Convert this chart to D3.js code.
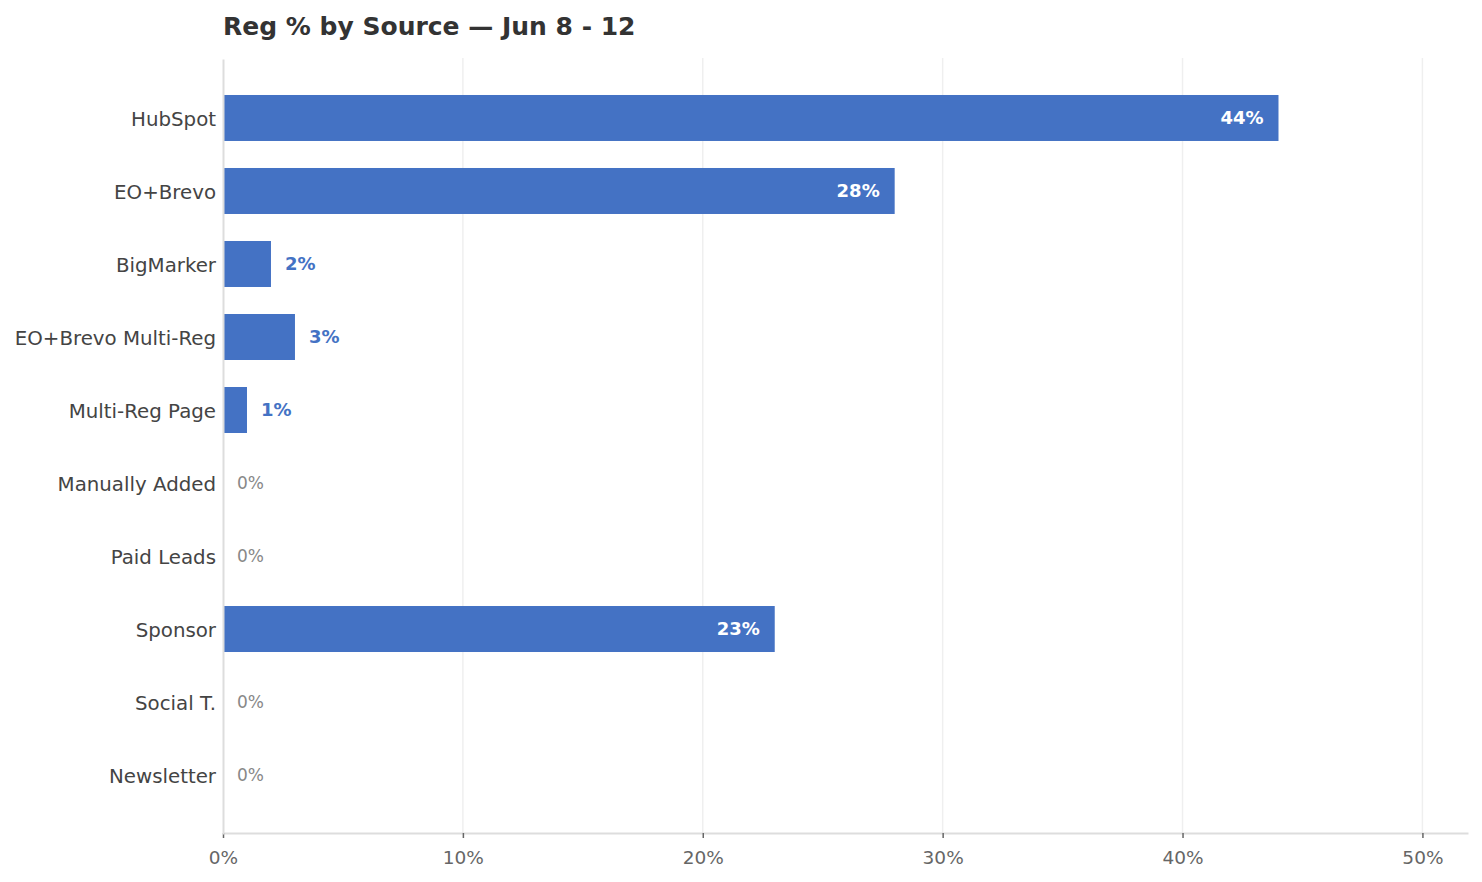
<!DOCTYPE html>
<html>
<head>
<meta charset="utf-8">
<script src="https://cdn.jsdelivr.net/npm/d3@7"></script>
<style>
  body { margin: 0; background: #fff; }
  svg { font-family: "DejaVu Sans", sans-serif; }
</style>
</head>
<body>
<div id="chart"></div>
<script>
const sources = ["HubSpot", "EO+Brevo", "BigMarker", "EO+Brevo Multi-Reg", "Multi-Reg Page",
                 "Manually Added", "Paid Leads", "Sponsor", "Social T.", "Newsletter"];
const regPct = [44, 28, 2, 3, 1, 0, 0, 23, 0, 0];
const tickValues = [0, 10, 20, 30, 40, 50];

const width = 1482, height = 882;
const margin = { top: 58, right: 14, bottom: 49, left: 223 };
const barColor = "#4472c4";

const svg = d3.select("#chart")
    .append("svg")
    .attr("width", width)
    .attr("height", height);

const x = d3.scaleLinear()
    .domain([0, 51.9])
    .range([margin.left, width - margin.right]);

const y = d3.scaleBand()
    .domain(sources)
    .range([margin.top + 1, height - margin.bottom + 1])
    .paddingInner(0.37)
    .paddingOuter(0.493);

// gridlines
svg.append("g")
    .selectAll("line")
    .data(tickValues.slice(1))
    .enter().append("line")
    .attr("x1", d => x(d))
    .attr("x2", d => x(d))
    .attr("y1", margin.top)
    .attr("y2", height - margin.bottom)
    .attr("stroke", "#efefef")
    .attr("stroke-width", 1.5);

// bars
svg.append("g")
    .selectAll("rect")
    .data(sources)
    .enter().append("rect")
    .attr("x", x(0))
    .attr("y", d => y(d))
    .attr("width", (d, i) => x(regPct[i]) - x(0))
    .attr("height", y.bandwidth())
    .attr("fill", barColor);

// value labels
svg.append("g")
    .selectAll("text")
    .data(sources)
    .enter().append("text")
    .attr("y", d => y(d) + y.bandwidth() / 2)
    .attr("dy", "0.35em")
    .attr("x", (d, i) => {
        const v = regPct[i];
        if (v === 0) return x(0) + 14;
        if (v >= 10) return x(v) - 15;
        return x(v) + 14;
    })
    .attr("text-anchor", (d, i) => regPct[i] >= 10 ? "end" : "start")
    .attr("font-size", (d, i) => regPct[i] === 0 ? "17px" : "18px")
    .attr("font-weight", (d, i) => regPct[i] === 0 ? "normal" : "bold")
    .attr("fill", (d, i) => {
        const v = regPct[i];
        if (v === 0) return "#888";
        return v >= 10 ? "#fff" : barColor;
    })
    .text((d, i) => regPct[i] + "%");

// x axis
const xAxis = svg.append("g")
    .attr("transform", `translate(0,${height - margin.bottom})`)
    .call(d3.axisBottom(x).tickValues(tickValues).tickFormat(d => d + "%").tickSize(5).tickSizeOuter(0));
xAxis.select(".domain").attr("stroke", "#ddd").attr("stroke-width", 2);
xAxis.selectAll(".tick line").attr("stroke", "#666").attr("stroke-width", 1.5);
xAxis.selectAll(".tick text")
    .attr("font-size", "18.5px")
    .attr("font-family", "DejaVu Sans, sans-serif")
    .attr("fill", "#666")
    .attr("dy", "1.25em");

// y axis
const yAxis = svg.append("g")
    .attr("transform", `translate(${margin.left},0)`)
    .call(d3.axisLeft(y).tickSize(0).tickPadding(7));
yAxis.select(".domain").attr("stroke", "#ddd").attr("stroke-width", 2);
yAxis.selectAll(".tick text")
    .attr("font-size", "19.8px")
    .attr("font-family", "DejaVu Sans, sans-serif")
    .attr("fill", "#444")
    .attr("dy", "0.42em");

// title
svg.append("text")
    .attr("x", margin.left)
    .attr("y", 35)
    .attr("font-size", "25px")
    .attr("font-weight", "bold")
    .attr("fill", "#333")
    .text("Reg % by Source — Jun 8 - 12");
</script>
</body>
</html>
